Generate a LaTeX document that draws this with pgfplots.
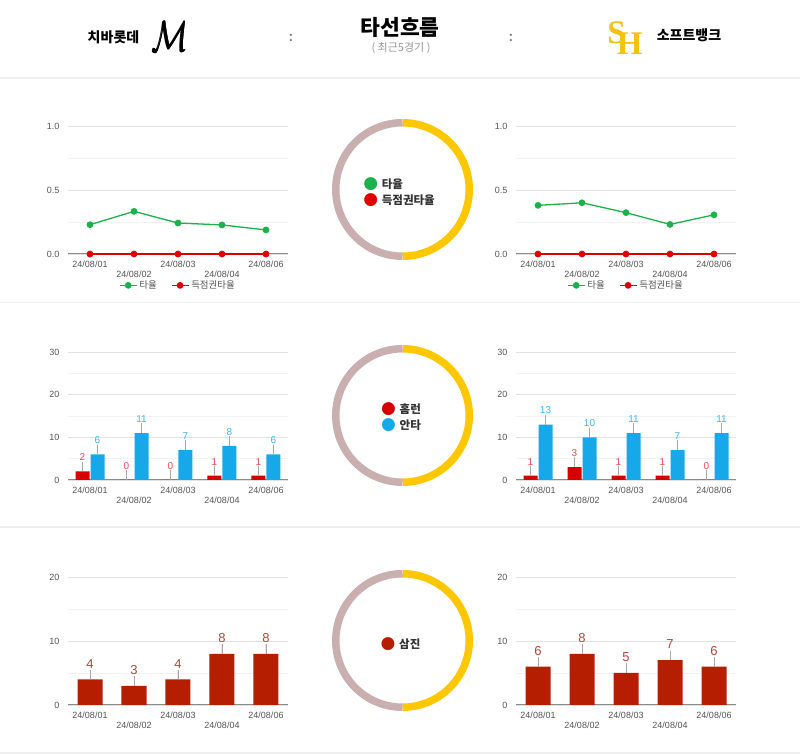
\documentclass[border=0pt]{standalone}
\usepackage{fontspec}
\setmainfont{Liberation Sans}
\newfontfamily\kr{Noto Sans CJK KR}
\newfontfamily\dv{DejaVu Sans}
\newfontfamily\lser{Liberation Serif}
\usepackage{pgfplots}
\usepackage{pgfplotstable}
\pgfplotsset{compat=1.18}

\definecolor{gridmaj}{HTML}{E2E2E2}
\definecolor{gridmin}{HTML}{F2F2F2}
\definecolor{basec}{HTML}{8A8A8A}
\definecolor{tickc}{HTML}{555555}
\definecolor{avgG}{HTML}{1CB14B}
\definecolor{rispR}{HTML}{E00000}
\definecolor{hrR}{HTML}{D50000}
\definecolor{hrL}{HTML}{E84E52}
\definecolor{hitB}{HTML}{15A9E9}
\definecolor{hitL}{HTML}{3BB7F2}
\definecolor{kR}{HTML}{B51F00}
\definecolor{kL}{HTML}{B4473A}
\definecolor{donY}{HTML}{FFC700}
\definecolor{donG}{HTML}{C9AFAF}
\definecolor{sepc}{HTML}{EFEFEF}
\definecolor{stemc}{HTML}{A8A8A8}
\definecolor{shY}{HTML}{F5C211}
\definecolor{legc}{HTML}{333333}

\pgfplotstableread{
x avgL rispL avgR rispR
0 0.229 0 0.380 0
1 0.333 0 0.400 0
2 0.242 0 0.323 0
3 0.227 0 0.231 0
4 0.188 0 0.306 0
}\avgtab

\pgfplotstableread{
x hrL hitL hrR hitR kL kR
0 2 6 1 13 4 6
1 0 11 3 10 3 8
2 0 7 1 11 4 5
3 1 8 1 7 8 7
4 1 6 0 11 8 6
}\cnttab

\pgfplotsset{
  panel/.style={
    scale only axis, width=220pt, height=128pt,
    xmin=-0.5, xmax=4.5, ymin=0,
    axis lines*=left,
    y axis line style={draw=none},
    x axis line style={draw=basec, line width=1pt},
    major tick length=0pt, minor tick length=0pt,
    ymajorgrids, yminorgrids,
    major grid style={draw=gridmaj, line width=0.8pt},
    minor grid style={draw=gridmin, line width=0.8pt},
    xtick={0,2,4}, xticklabels={24/08/01,24/08/03,24/08/06},
    extra x ticks={1,3}, extra x tick labels={24/08/02,24/08/04},
    extra x tick style={xticklabel style={yshift=-10pt}, major tick length=0pt},
    xticklabel style={yshift=-3pt},
    tick label style={font=\fontsize{9}{10}\selectfont, text=tickc},
    yticklabel style={xshift=-5pt},
    /pgf/number format/assume math mode=true,
    clip=false,
  },
  linep/.style={line width=1.3pt, mark=*, mark size=2.7pt},
  lineax/.style={panel, anchor=south west, ymax=1, ytick={0,0.5,1}, minor ytick={0.25,0.75},
    yticklabel style={/pgf/number format/.cd, fixed, fixed zerofill, precision=1},
    legend style={at={(0.5,-0.245)}, anchor=center, draw=none, fill=none,
      font=\kr\fontsize{9.5}{10}\selectfont, text=tickc, legend columns=2,
      /tikz/every even column/.append style={column sep=12pt}}},
  hrax/.style={panel, anchor=south west, ymax=30, ytick={0,10,20,30}, minor ytick={5,15,25},
    ybar=1pt, bar width=14pt},
  kax/.style={panel, anchor=south west, ymax=20, ytick={0,10,20}, minor ytick={5,15},
    ybar, bar width=25pt},
  barlab/.style={nodes near coords,
    every node near coord/.append style={text=#1, font=\fontsize{10}{11}\selectfont, anchor=south, inner sep=0pt, yshift=10.5pt},
    error bars/y dir=plus, error bars/y fixed=2.3, error bars/error mark=none,
    error bars/error bar style={draw=stemc, line width=0.6pt}},
  klab/.style={nodes near coords,
    every node near coord/.append style={text=kL, font=\fontsize{13}{14}\selectfont, anchor=south, inner sep=0pt, yshift=11pt},
    error bars/y dir=plus, error bars/y fixed=1.5, error bars/error mark=none,
    error bars/error bar style={draw=stemc, line width=0.6pt}},
}

\newcommand{\donut}[1]{%
  \draw[donY, line width=7.5pt] (402.5,#1) ++(90:66.75pt) arc[start angle=90, end angle=-90, radius=66.75pt];
  \draw[donG, line width=7.5pt] (402.5,#1) ++(90:66.75pt) arc[start angle=90, end angle=270, radius=66.75pt];
}
\newcommand{\dleg}[4]{% x of dot, y, color, text
  \node[text=#3, font=\dv\fontsize{17}{17}\selectfont, inner sep=0pt] at (#1,#2) {●};
  \node[anchor=west, text=legc, font=\kr\bfseries\fontsize{11.5}{12}\selectfont, inner sep=0pt] at ({#1+11},#2) {#4};
}
\newcommand{\logoM}{\fontsize{24}{24}\selectfont\rlap{$\mathcal{M}$}\kern0.45pt\rlap{$\mathcal{M}$}\kern0.45pt$\mathcal{M}$}

\begin{document}
\begin{tikzpicture}[x=1pt, y=1pt]
\fill[white] (0,0) rectangle (800,754);
\useasboundingbox (0,0) rectangle (800,754);

% header
\node[font=\kr\bfseries\fontsize{14}{14}\selectfont] at (113.5,717) {치바롯데};
\node[xscale=1.2, yscale=1.75, inner sep=0pt] at (170,717) {\logoM};
\node[text=gray, font=\bfseries\fontsize{14}{14}\selectfont] at (291,716) {:};
\node[text=gray, font=\bfseries\fontsize{14}{14}\selectfont] at (511,716) {:};
\node[font=\kr\bfseries\fontsize{21.5}{22}\selectfont] at (400,727) {타선흐름};
\node[text=gray!80, font=\kr\fontsize{11}{11}\selectfont] at (401,706) {( 최근5경기 )};
\node[text=shY, font=\lser\bfseries\fontsize{33}{33}\selectfont, inner sep=0pt] at (625,716) {S\kern-9pt\raisebox{-11pt}{H}};
\node[font=\kr\bfseries\fontsize{14}{14}\selectfont] at (689,719) {소프트뱅크};

% separators
\draw[sepc, line width=1.5pt] (0,676) -- (800,676);
\draw[sepc, line width=1.5pt] (0,451.5) -- (800,451.5);
\draw[sepc, line width=1.5pt] (0,227) -- (800,227);
\draw[sepc, line width=1.5pt] (0,1) -- (800,1);

% donuts
\donut{564.5}
\donut{338.5}
\donut{113.5}
\dleg{370.7}{569.7}{avgG}{타율}
\dleg{370.7}{554}{rispR}{득점권타율}
\dleg{388.5}{345}{hrR}{홈런}
\dleg{388.5}{329}{hitB}{안타}
\dleg{388}{110}{kR}{삼진}

% section 1
\begin{axis}[lineax, at={(68pt,500pt)}]
\addplot[avgG, linep] table[x=x,y=avgL]{\avgtab};
\addlegendentry{타율}
\addplot[rispR, linep] table[x=x,y=rispL]{\avgtab};
\addlegendentry{득점권타율}
\end{axis}
\begin{axis}[lineax, at={(516pt,500pt)}]
\addplot[avgG, linep] table[x=x,y=avgR]{\avgtab};
\addlegendentry{타율}
\addplot[rispR, linep] table[x=x,y=rispR]{\avgtab};
\addlegendentry{득점권타율}
\end{axis}

% section 2
\begin{axis}[hrax, at={(68pt,274pt)}]
\addplot[fill=hrR, draw=none, barlab=hrL] table[x=x,y=hrL]{\cnttab};
\addplot[fill=hitB, draw=none, barlab=hitL] table[x=x,y=hitL]{\cnttab};
\end{axis}
\begin{axis}[hrax, at={(516pt,274pt)}]
\addplot[fill=hrR, draw=none, barlab=hrL] table[x=x,y=hrR]{\cnttab};
\addplot[fill=hitB, draw=none, barlab=hitL] table[x=x,y=hitR]{\cnttab};
\end{axis}

% section 3
\begin{axis}[kax, at={(68pt,49pt)}]
\addplot[fill=kR, draw=none, klab] table[x=x,y=kL]{\cnttab};
\end{axis}
\begin{axis}[kax, at={(516pt,49pt)}]
\addplot[fill=kR, draw=none, klab] table[x=x,y=kR]{\cnttab};
\end{axis}
\end{tikzpicture}
\end{document}
